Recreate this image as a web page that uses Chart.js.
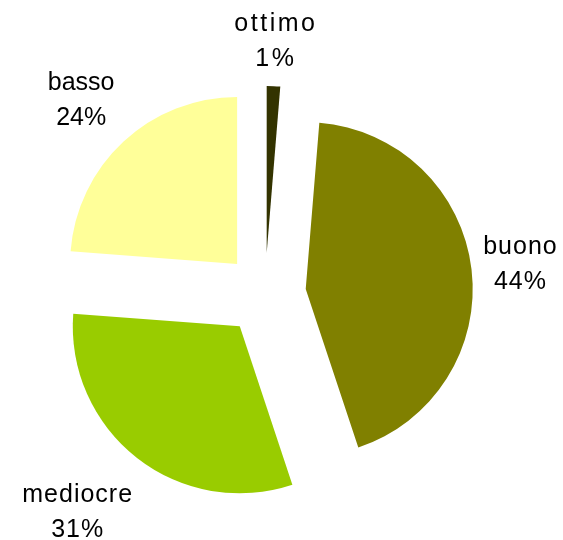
<!DOCTYPE html>
<html>
<head>
<meta charset="utf-8">
<script src="https://cdn.jsdelivr.net/npm/chart.js@4"></script>
<style>
html,body{margin:0;padding:0;background:#fff;}
#wrap{width:563px;height:540px;}
</style>
</head>
<body>
<div id="wrap"><canvas id="c" width="563" height="540"></canvas></div>
<script>
const categories = ['ottimo', 'buono', 'mediocre', 'basso'];
const values = [1.3, 43.6, 31.3, 23.8];
const colors = ['#333300', '#808000', '#99CC00', '#FFFF99'];
const labelGap = [17, 12, 41, 29];
const letterSp = ['2.5px', '1px', '1px', '0px'];
const EXPLODE = 41;
const FONT = '25px "Liberation Sans", Arial, sans-serif';

const total = values.reduce((a, b) => a + b, 0);
const pctLabels = values.map(v => Math.round(v / total * 100) + '%');

const explodePlugin = {
  id: 'explode',
  afterDatasetUpdate(chart, args) {
    args.meta.data.forEach(arc => {
      const mid = (arc.startAngle + arc.endAngle) / 2;
      arc.x += Math.cos(mid) * EXPLODE;
      arc.y += Math.sin(mid) * EXPLODE;
    });
  }
};

const labelPlugin = {
  id: 'outLabels',
  afterDatasetsDraw(chart) {
    const ctx = chart.ctx;
    const meta = chart.getDatasetMeta(0);
    ctx.save();
    ctx.font = FONT;
    ctx.fillStyle = '#000';
    ctx.textAlign = 'center';
    ctx.textBaseline = 'middle';
    meta.data.forEach((arc, i) => {
      ctx.letterSpacing = letterSp[i];
      const mid = (arc.startAngle + arc.endAngle) / 2;
      const ux = Math.cos(mid), uy = Math.sin(mid);
      const l1 = categories[i], l2 = pctLabels[i];
      const w = Math.max(ctx.measureText(l1).width, ctx.measureText(l2).width);
      const h = 56;
      const r = arc.outerRadius + labelGap[i];
      const cx = arc.x + r * ux + (w / 2) * ux;
      const cy = arc.y + r * uy + (h / 2) * uy;
      ctx.fillText(l1, cx, cy - 17);
      ctx.fillText(l2, cx, cy + 18);
    });
    ctx.restore();
  }
};

new Chart(document.getElementById('c'), {
  type: 'pie',
  data: {
    labels: categories,
    datasets: [{
      data: values,
      backgroundColor: colors,
      borderWidth: 0
    }]
  },
  options: {
    responsive: false,
    animation: false,
    radius: 167,
    layout: { padding: { left: 2, right: 35, top: 48, bottom: 0 } },
    plugins: { legend: { display: false }, tooltip: { enabled: false } }
  },
  plugins: [explodePlugin, labelPlugin]
});
</script>
</body>
</html>
